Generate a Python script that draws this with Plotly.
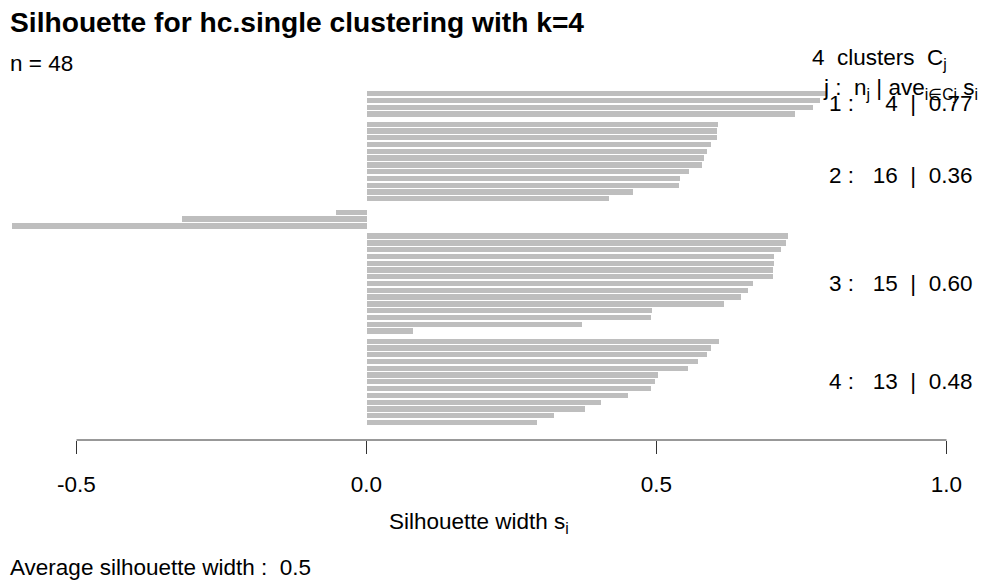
import plotly.graph_objects as go

# ---- data ----
cluster_sizes = [4, 16, 15, 13]
cluster_avgs = [0.77, 0.36, 0.60, 0.48]
sil_c1 = [0.794, 0.782, 0.769, 0.739]
sil_c2 = [0.606, 0.604, 0.604, 0.594, 0.587, 0.582, 0.579, 0.556, 0.541, 0.539,
          0.460, 0.418, 0.000, -0.053, -0.318, -0.612]
sil_c3 = [0.726, 0.723, 0.714, 0.703, 0.703, 0.700, 0.700, 0.667, 0.658, 0.645,
          0.617, 0.493, 0.491, 0.372, 0.081]
sil_c4 = [0.607, 0.594, 0.587, 0.571, 0.554, 0.503, 0.498, 0.491, 0.450, 0.405,
          0.377, 0.324, 0.294]
avg_width = 0.5
n_total = 48
title = "Silhouette for hc.single clustering with k=4"
xtick_vals = [-0.5, 0.0, 0.5, 1.0]
xtick_text = ["-0.5", "0.0", "0.5", "1.0"]

W, H = 982, 583
FONT = "Liberation Sans, Arial, sans-serif"
NB = "\u00a0"
FS = 22.5

# positions: bar width 1, gap of 0.5 between clusters (R barplot space)
clusters = [sil_c1, sil_c2, sil_c3, sil_c4]
ys, xs, mids = [], [], []
pos = 0.0
for k, vals in enumerate(clusters):
    start = pos
    for v in vals:
        ys.append(pos)
        xs.append(v)
        pos += 1.0
    mids.append((start + pos - 1.0) / 2.0)
    pos += 0.5

fig = go.Figure()
fig.add_trace(go.Bar(x=xs, y=ys, orientation="h", width=0.78,
                     marker=dict(color="#bebebe", line=dict(width=0)),
                     hoverinfo="x"))

plot_bottom_px = 440.0
top_px = 93.7
unit_px = 6.78
y_lo = (0 - top_px) / unit_px
y_hi = (plot_bottom_px - top_px) / unit_px

x0_px = 366.5
xunit = 580.0
x_lo = (0 - x0_px) / xunit
x_hi = (W - x0_px) / xunit

def px(x):
    return x / W

def py(y):
    return (plot_bottom_px - y) / plot_bottom_px

# axis line only over the tick range
fig.add_shape(type="line", xref="x", yref="paper", x0=xtick_vals[0], x1=xtick_vals[-1],
              y0=0, y1=0, line=dict(color="#333333", width=1))

ann = []
def add(text, x, y, size, xanchor="left", bold=False):
    t = f"<b>{text}</b>" if bold else text
    ann.append(dict(text=t, x=px(x), y=py(y), xref="paper", yref="paper",
                    xanchor=xanchor, yanchor="middle", showarrow=False,
                    font=dict(family=FONT, size=size, color="#000000")))

add(title, 8, 22, 28.2, bold=True)
add(f"n = {n_total}", 8, 63, FS)
add(f"{len(clusters)}{NB}{NB}clusters{NB}{NB}C<sub>j</sub>", 949, 59, FS, xanchor="right")
add(f"j{NB}:{NB}{NB}n<sub>j</sub>{NB}|{NB}ave<sub>i∈Cj</sub>{NB}s<sub>i</sub>", 980, 89, FS, xanchor="right")
add("Silhouette width s<sub>i</sub>", 479, 523, FS, xanchor="center")
add(f"Average silhouette width :{NB}{NB}{avg_width}", 8, 567, FS)

for k in range(len(clusters)):
    ymid_px = top_px + mids[k] * unit_px
    label = f"{k+1}{NB}:{NB}{NB}{NB}{cluster_sizes[k]:>2}{NB}{NB}|{NB}{NB}{cluster_avgs[k]:.2f}".replace(" ", NB + NB)
    add(label, 974, ymid_px, FS, xanchor="right")

fig.update_layout(
    width=W, height=H,
    margin=dict(l=0, r=0, t=0, b=H - plot_bottom_px, pad=0),
    plot_bgcolor="white", paper_bgcolor="white",
    showlegend=False, bargap=0,
    font=dict(family=FONT, size=FS, color="#000000"),
    annotations=ann,
    xaxis=dict(range=[x_lo, x_hi], showgrid=False, zeroline=False, showline=False,
               tickmode="array", tickvals=xtick_vals, ticktext=xtick_text,
               ticks="outside", ticklen=13, tickwidth=1, tickcolor="#333333",
               ticklabelstandoff=11,
               tickfont=dict(family=FONT, size=FS, color="#000000")),
    yaxis=dict(range=[y_hi, y_lo], showgrid=False, zeroline=False, showline=False,
               showticklabels=False, ticks=""),
)

fig.write_html("out.html")
